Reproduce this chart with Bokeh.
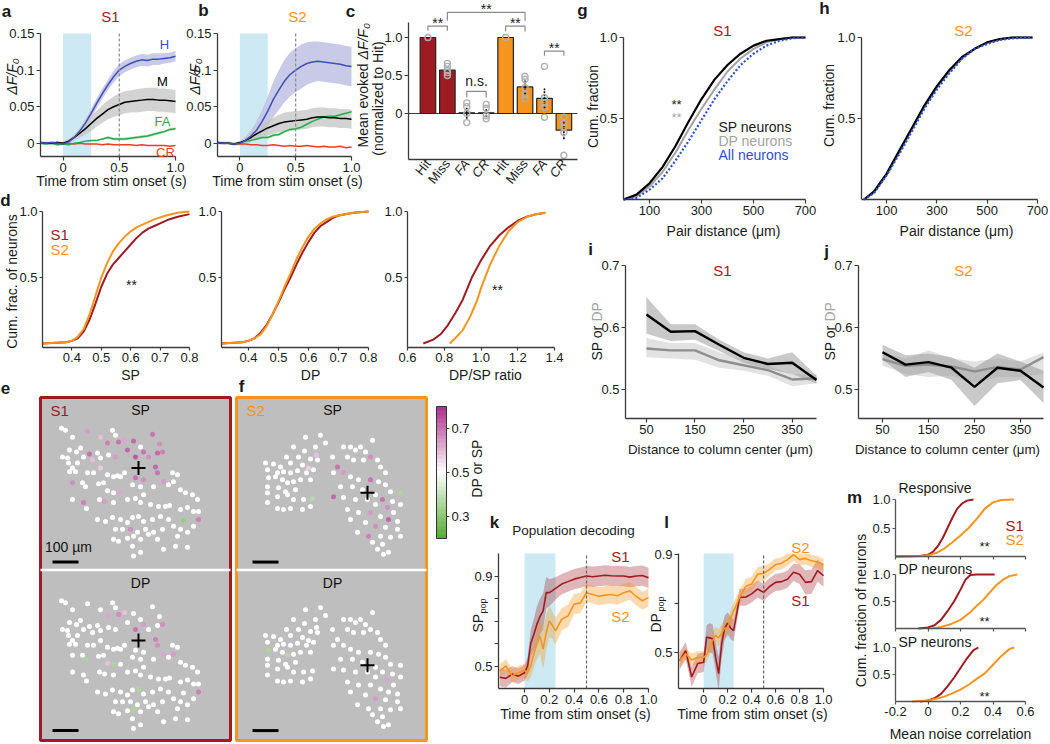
import math
import numpy as np
from bokeh.plotting import figure
from bokeh.models import (Range1d, Label, FixedTicker, LinearAxis, LinearColorMapper,
                          ColumnDataSource)
from bokeh.transform import transform
from bokeh.embed import file_html
from bokeh.resources import INLINE

FONT = "Liberation Sans"
S1C = "#9e1b22"
S2C = "#f7941e"
AXC = "#3a3a3a"
STIM = "#cdeaf4"
BLUE = "#3d50b6"
GREEN = "#2aa94b"
RED = "#f23b25"
DPGRAY = "#a3a3a3"
DOTBLUE = "#3050c8"
MAPBG = "#bebebe"
STIM_END = 0.25
RESP_T = 0.5

# ---------------- data: a / b (trial-type traces) ----------------
t_ab = [-0.2, -0.15, -0.1, -0.05, 0.0, 0.05, 0.1, 0.15, 0.2, 0.25, 0.3, 0.35, 0.4,
        0.45, 0.5, 0.55, 0.6, 0.65, 0.7, 0.75, 0.8, 0.85, 0.9, 0.95, 1.0]
a_hit = [0.001, 0.0, 0.001, 0.0, -0.001, 0.002, 0.008, 0.017, 0.028, 0.041, 0.055, 0.068, 0.080,
         0.091, 0.100, 0.105, 0.109, 0.112, 0.114, 0.113, 0.115, 0.115, 0.116, 0.117, 0.119]
a_hit_sem = [0.002, 0.002, 0.002, 0.002, 0.002, 0.002, 0.003, 0.004, 0.005, 0.006, 0.007, 0.007, 0.007,
             0.008, 0.008, 0.008, 0.008, 0.008, 0.008, 0.008, 0.008, 0.008, 0.007, 0.007, 0.007]
a_miss = [0.001, 0.0, 0.0, 0.001, 0.0, 0.003, 0.008, 0.014, 0.020, 0.027, 0.034, 0.040, 0.046,
          0.050, 0.053, 0.056, 0.057, 0.058, 0.059, 0.060, 0.060, 0.059, 0.059, 0.058, 0.057]
a_miss_sem = [0.002, 0.002, 0.002, 0.002, 0.002, 0.003, 0.004, 0.006, 0.008, 0.010, 0.011, 0.012, 0.013,
              0.014, 0.015, 0.015, 0.015, 0.016, 0.016, 0.016, 0.016, 0.016, 0.016, 0.016, 0.016]
a_fa = [0.0, -0.001, 0.0, -0.002, -0.001, -0.002, 0.0, 0.001, 0.003, 0.004, 0.004, 0.006, 0.008,
        0.006, 0.006, 0.006, 0.007, 0.008, 0.009, 0.010, 0.012, 0.014, 0.016, 0.019, 0.020]
a_fa_sem = [0.001, 0.001, 0.001, 0.001, 0.001, 0.001, 0.001, 0.001, 0.001, 0.001, 0.001, 0.001, 0.002,
            0.002, 0.002, 0.002, 0.002, 0.002, 0.002, 0.002, 0.002, 0.002, 0.002, 0.002, 0.002]
a_cr = [0.001, 0.0, 0.0, 0.001, 0.0, 0.0, -0.001, 0.0, -0.001, -0.001, -0.001, -0.002, -0.001,
        -0.002, -0.002, -0.002, -0.002, -0.003, -0.002, -0.003, -0.003, -0.003, -0.003, -0.004, -0.003]

b_hit = [0.001, 0.0, 0.0, -0.001, 0.0, 0.004, 0.010, 0.018, 0.030, 0.044, 0.060, 0.073, 0.085,
         0.094, 0.100, 0.105, 0.109, 0.111, 0.112, 0.111, 0.110, 0.109, 0.108, 0.106, 0.105]
b_hit_sem = [0.002, 0.002, 0.002, 0.002, 0.003, 0.005, 0.008, 0.012, 0.016, 0.020, 0.024, 0.027, 0.029,
             0.030, 0.030, 0.030, 0.029, 0.028, 0.027, 0.027, 0.027, 0.027, 0.027, 0.027, 0.027]
b_miss = [0.001, 0.0, 0.0, -0.001, 0.001, 0.004, 0.008, 0.013, 0.017, 0.021, 0.024, 0.027, 0.029,
          0.030, 0.031, 0.032, 0.033, 0.035, 0.036, 0.036, 0.035, 0.035, 0.034, 0.034, 0.033]
b_miss_sem = [0.002, 0.002, 0.002, 0.002, 0.002, 0.003, 0.005, 0.007, 0.009, 0.010, 0.011, 0.012, 0.013,
              0.013, 0.013, 0.013, 0.013, 0.013, 0.013, 0.013, 0.013, 0.013, 0.013, 0.013, 0.013]
b_fa = [0.001, 0.0, 0.0, -0.001, 0.0, 0.003, 0.004, 0.006, 0.008, 0.008, 0.011, 0.012, 0.016,
        0.019, 0.020, 0.022, 0.026, 0.030, 0.033, 0.036, 0.037, 0.037, 0.039, 0.041, 0.043]
b_fa_sem = [0.001, 0.001, 0.001, 0.001, 0.001, 0.001, 0.001, 0.002, 0.002, 0.002, 0.002, 0.002, 0.002,
            0.002, 0.002, 0.002, 0.002, 0.002, 0.002, 0.002, 0.002, 0.002, 0.002, 0.002, 0.002]
b_cr = [0.001, 0.0, 0.0, -0.001, -0.001, -0.001, -0.002, -0.002, -0.003, -0.003, -0.002, -0.003, -0.004,
        -0.003, -0.004, -0.004, -0.003, -0.004, -0.005, -0.004, -0.005, -0.005, -0.004, -0.006, -0.005]

# ---------------- data: c (normalized evoked response) ----------------
c_labels = ["Hit", "Miss", "FA", "CR", "Hit", "Miss", "FA", "CR"]
c_pos = [1, 2, 3, 4, 5, 6, 7, 8]
c_mean = [1.0, 0.57, 0.01, 0.01, 1.0, 0.35, 0.20, -0.22]
c_sem = [0.0, 0.05, 0.08, 0.06, 0.0, 0.10, 0.13, 0.12]
c_points = [[1.0], [0.50, 0.54, 0.57, 0.62, 0.66], [-0.12, 0.0, 0.09, 0.14], [-0.07, -0.03, 0.07, 0.12],
            [1.0], [0.20, 0.25, 0.34, 0.45, 0.49], [-0.05, 0.08, 0.14, 0.21, 0.62],
            [-0.55, -0.25, -0.18, -0.12, -0.05]]
# (left bar, right bar, bracket height, leg bottom, text)
c_sig = [(1, 2, 1.15, 1.09, "**"), (3, 4, 0.29, 0.21, "n.s."), (5, 6, 1.15, 1.08, "**"),
         (7, 8, 0.82, 0.76, "**"), (2, 6, 1.33, 1.22, "**")]

# ---------------- data: d (cumulative distributions) ----------------
d1_s1_x = [0.30, 0.38, 0.40, 0.42, 0.44, 0.46, 0.48, 0.50, 0.52, 0.54, 0.56, 0.58, 0.60, 0.62, 0.64,
           0.66, 0.68, 0.70, 0.73, 0.76, 0.80]
d1_s1_f = [0.0, 0.01, 0.02, 0.04, 0.09, 0.18, 0.30, 0.43, 0.53, 0.60, 0.65, 0.70, 0.75, 0.80, 0.84,
           0.87, 0.89, 0.91, 0.94, 0.96, 0.98]
d1_s2_x = [0.30, 0.38, 0.40, 0.42, 0.44, 0.46, 0.48, 0.50, 0.52, 0.54, 0.56, 0.58, 0.60, 0.62, 0.65,
           0.68, 0.72, 0.76, 0.80]
d1_s2_f = [0.0, 0.01, 0.02, 0.05, 0.11, 0.22, 0.36, 0.50, 0.61, 0.70, 0.76, 0.81, 0.85, 0.88, 0.91,
           0.94, 0.97, 0.99, 1.0]
d2_x = [0.31, 0.38, 0.40, 0.42, 0.44, 0.46, 0.48, 0.50, 0.52, 0.54, 0.56, 0.58, 0.60, 0.62, 0.64,
        0.66, 0.68, 0.70, 0.75, 0.80]
d2_s1_f = [0.0, 0.01, 0.02, 0.04, 0.08, 0.14, 0.22, 0.31, 0.41, 0.50, 0.60, 0.69, 0.77, 0.84, 0.89,
           0.92, 0.95, 0.97, 0.99, 1.0]
d2_s2_f = [0.0, 0.01, 0.02, 0.04, 0.07, 0.13, 0.22, 0.32, 0.43, 0.53, 0.64, 0.73, 0.81, 0.87, 0.91,
           0.94, 0.96, 0.97, 0.99, 1.0]
d3_s1_x = [0.686, 0.74, 0.78, 0.82, 0.86, 0.90, 0.95, 1.00, 1.05, 1.10, 1.15, 1.20, 1.25, 1.30, 1.35]
d3_s1_f = [0.0, 0.03, 0.07, 0.14, 0.23, 0.33, 0.50, 0.63, 0.74, 0.82, 0.88, 0.93, 0.96, 0.98, 0.99]
d3_s2_x = [0.83, 0.86, 0.90, 0.94, 0.98, 1.00, 1.05, 1.10, 1.15, 1.20, 1.25, 1.30, 1.35]
d3_s2_f = [0.0, 0.04, 0.10, 0.20, 0.33, 0.42, 0.60, 0.74, 0.85, 0.92, 0.96, 0.98, 0.99]

# ---------------- data: e / f (maps: x, y [26 units = 100 um], SP, DP) ----------------
s1_cells = [
    (21, 31, .5, .5), (25, 33, .5, .5), (47, 34, .64, .5), (72, 33, .5, .5), (75, 38, .5, .5),
    (32, 40, .5, .5), (60, 40, .60, .5), (67, 46, .68, .62), (78, 45, .70, .66), (84, 43, .62, .60),
    (93, 44, .72, .5), (100, 50, .5, .5), (112, 37, .70, .5), (119, 47, .66, .5), (29, 53, .5, .5),
    (36, 55, .5, .5), (40, 51, .5, .5), (49, 57, .70, .5), (57, 56, .5, .5), (22, 60, .5, .5),
    (27, 61, .5, .5), (28, 66, .5, .5), (32, 71, .5, .5), (37, 66, .5, .5), (43, 60, .5, .5),
    (52, 63, .60, .5), (60, 61, .5, .5), (68, 58, .5, .5), (75, 60, .65, .5), (87, 53, .72, .5),
    (95, 60, .74, .70), (103, 55, .70, .64), (108, 60, .66, .5), (117, 56, .72, .5), (122, 55, .68, .66),
    (29, 75, .5, .5), (35, 75, .5, .5), (47, 76, .5, .5), (53, 76, .5, .5), (60, 71, .58, .5),
    (67, 78, .5, .5), (73, 80, .5, .5), (77, 79, .5, .5), (80, 80, .5, .5), (84, 76, .5, .5),
    (95, 81, .70, .5), (103, 83, .66, .5), (115, 70, .72, .68), (117, 76, .70, .66), (123, 85, .64, .62),
    (132, 76, .5, .5), (137, 78, .5, .5), (32, 86, .66, .5), (42, 86, .5, .5), (45, 90, .5, .35),
    (58, 87, .5, .5), (63, 86, .5, .5), (67, 94, .5, .60), (73, 96, .5, .35), (80, 95, .62, .5),
    (92, 88, .5, .5), (100, 90, .5, .5), (103, 98, .5, .5), (113, 90, .5, .5), (128, 88, .5, .5),
    (133, 85, .5, .64), (140, 93, .5, .5), (145, 96, .5, .5), (152, 98, .5, .5), (157, 103, .5, .5),
    (32, 103, .5, .5), (43, 106, .68, .5), (46, 112, .5, .5), (59, 103, .5, .5), (64, 105, .64, .5),
    (73, 106, .5, .5), (87, 103, .5, .5), (95, 102, .5, .5), (100, 106, .5, .5), (110, 108, .5, .5),
    (118, 110, .5, .5), (125, 110, .5, .5), (129, 109, .5, .5), (140, 113, .5, .5), (147, 111, .5, .5),
    (153, 115, .5, .5), (158, 115, .5, .5), (57, 123, .5, .5), (65, 125, .5, .5), (72, 121, .5, .5),
    (80, 123, .5, .5), (87, 126, .5, .5), (92, 121, .5, .5), (98, 120, .5, .35), (103, 125, .5, .5),
    (112, 123, .5, .5), (120, 120, .5, .5), (128, 123, .5, .5), (133, 130, .5, .5), (140, 133, .5, .5),
    (147, 136, .5, .5), (153, 130, .5, .5), (158, 123, .68, .68), (75, 133, .5, .5), (82, 133, .5, .5),
    (90, 133, .66, .5), (97, 136, .5, .5), (105, 133, .5, .5), (113, 136, .5, .5), (122, 133, .5, .5),
    (137, 140, .5, .5), (73, 143, .5, .5), (78, 145, .5, .5), (87, 142, .5, .5), (93, 140, .5, .36),
    (100, 143, .5, .5), (108, 138, .5, .5), (117, 143, .5, .5), (123, 153, .5, .5), (135, 150, .5, .5),
    (147, 151, .5, .5), (92, 150, .5, .5), (93, 160, .5, .5), (100, 156, .5, .5), (143, 124, .32, .5),
]
s2_cells = [
    (69, 40, .5, .5), (57, 50, .5, .5), (68, 54, .5, .5), (79, 50, .5, .5), (50, 60, .5, .5),
    (62, 60, .5, .5), (74, 62, .5, .5), (80, 58, .60, .5), (29, 66, .5, .5), (37, 67, .5, .5),
    (44, 70, .5, .5), (54, 66, .5, .5), (66, 68, .5, .5), (72, 71, .58, .5), (31, 73, .5, .5),
    (41, 76, .5, .5), (47, 75, .5, .5), (54, 76, .5, .5), (61, 74, .5, .5), (70, 76, .5, .5),
    (77, 73, .5, .5), (32, 81, .5, .36), (39, 80, .5, .5), (46, 83, .5, .5), (51, 86, .5, .38),
    (57, 85, .5, .5), (64, 83, .5, .5), (74, 83, .5, .5), (31, 90, .5, .5), (42, 91, .5, .5),
    (49, 95, .5, .5), (59, 93, .5, .5), (31, 96, .5, .5), (41, 100, .5, .5), (51, 98, .5, .5),
    (57, 103, .5, .5), (67, 103, .5, .5), (76, 102, .38, .5), (31, 106, .5, .5), (41, 112, .5, .5),
    (47, 113, .5, .5), (54, 112, .5, .5), (66, 113, .5, .5), (74, 110, .5, .5), (84, 38, .5, .5),
    (89, 46, .5, .5), (81, 63, .5, .5), (96, 60, .5, .5), (101, 70, .70, .5), (107, 50, .5, .5),
    (114, 50, .5, .5), (119, 53, .5, .5), (124, 50, .5, .5), (129, 55, .5, .5), (136, 43, .5, .5),
    (111, 60, .5, .5), (117, 63, .5, .5), (127, 63, .5, .5), (134, 60, .66, .5), (141, 63, .5, .5),
    (144, 70, .5, .5), (149, 76, .5, .5), (97, 76, .5, .5), (107, 76, .64, .5), (114, 80, .5, .5),
    (122, 83, .5, .5), (134, 83, .70, .5), (142, 85, .5, .5), (149, 88, .5, .5), (154, 95, .5, .5),
    (164, 96, .36, .5), (104, 90, .5, .5), (116, 90, .5, .5), (126, 93, .5, .5), (139, 98, .5, .5),
    (146, 103, .70, .5), (156, 105, .5, .5), (97, 100, .72, .5), (107, 101, .5, .5), (119, 103, .5, .5),
    (131, 103, .5, .5), (139, 108, .5, .5), (151, 111, .66, .62), (157, 116, .5, .5), (164, 108, .5, .5),
    (111, 113, .5, .5), (122, 116, .5, .5), (134, 116, .64, .5), (144, 120, .5, .5), (152, 123, .72, .5),
    (161, 125, .5, .5), (114, 123, .5, .5), (129, 126, .5, .5), (139, 130, .66, .64), (149, 131, .5, .5),
    (161, 133, .5, .5), (121, 136, .5, .5), (132, 140, .68, .5), (144, 140, .5, .5), (154, 141, .5, .5),
    (164, 140, .5, .5), (136, 146, .5, .5), (146, 148, .5, .5), (152, 156, .5, .5), (147, 158, .5, .5),
    (141, 153, .5, .5),
]
s1_center = (98, 71)
s2_center = (131, 96)
MAP_W = 190
PANEL_H = 174
MAP_H = 346
SCALE_100UM = 26

# ---------------- data: g / h (pair distance CDF) ----------------
g_x = [0, 50, 100, 150, 200, 250, 300, 350, 400, 450, 500, 550, 600, 650, 700]
g_sp = [0, 0.03, 0.10, 0.20, 0.33, 0.48, 0.62, 0.74, 0.83, 0.90, 0.95, 0.98, 0.99, 1.0, 1.0]
g_dp = [0, 0.02, 0.08, 0.17, 0.29, 0.43, 0.56, 0.68, 0.79, 0.87, 0.93, 0.97, 0.99, 1.0, 1.0]
g_all = [0, 0.01, 0.06, 0.13, 0.24, 0.36, 0.49, 0.62, 0.73, 0.83, 0.90, 0.95, 0.98, 0.995, 1.0]
h_x = [10, 50, 100, 150, 200, 250, 300, 350, 400, 450, 500, 550, 600, 680]
h_sp = [0, 0.05, 0.16, 0.30, 0.44, 0.58, 0.70, 0.80, 0.88, 0.93, 0.97, 0.99, 1.0, 1.0]
h_dp = [0, 0.04, 0.15, 0.29, 0.43, 0.57, 0.69, 0.79, 0.87, 0.93, 0.97, 0.99, 1.0, 1.0]
h_all = [0, 0.04, 0.15, 0.28, 0.42, 0.56, 0.68, 0.78, 0.87, 0.93, 0.96, 0.985, 0.995, 1.0]

# ---------------- data: i / j (SP, DP vs distance to column center) ----------------
ij_x = [50, 100, 150, 200, 250, 300, 350, 400]
i_sp = [0.621, 0.593, 0.594, 0.572, 0.551, 0.541, 0.543, 0.515]
i_sp_hi = [0.649, 0.605, 0.605, 0.580, 0.560, 0.550, 0.560, 0.522]
i_sp_lo = [0.590, 0.578, 0.580, 0.562, 0.543, 0.533, 0.525, 0.509]
i_dp = [0.566, 0.563, 0.563, 0.547, 0.539, 0.531, 0.516, 0.518]
i_dp_hi = [0.583, 0.575, 0.575, 0.560, 0.548, 0.538, 0.525, 0.525]
i_dp_lo = [0.552, 0.550, 0.548, 0.535, 0.530, 0.522, 0.505, 0.510]
j_sp = [0.560, 0.540, 0.544, 0.535, 0.504, 0.535, 0.530, 0.503]
j_sp_hi = [0.572, 0.555, 0.558, 0.552, 0.535, 0.558, 0.545, 0.530]
j_sp_lo = [0.548, 0.520, 0.528, 0.515, 0.473, 0.510, 0.515, 0.478]
j_dp = [0.549, 0.538, 0.540, 0.537, 0.529, 0.536, 0.532, 0.552]
j_dp_hi = [0.560, 0.550, 0.563, 0.550, 0.545, 0.550, 0.545, 0.560]
j_dp_lo = [0.538, 0.525, 0.520, 0.522, 0.510, 0.520, 0.520, 0.525]

# ---------------- data: k / l (population decoding) ----------------
t_kl = [-0.2, -0.15, -0.1, -0.05, 0.0, 0.025, 0.05, 0.075, 0.1, 0.125, 0.15, 0.175, 0.2, 0.225, 0.25,
        0.3, 0.35, 0.4, 0.45, 0.5, 0.55, 0.6, 0.65, 0.7, 0.75, 0.8, 0.85, 0.9, 0.95, 1.0]
k_s1 = [0.450, 0.445, 0.464, 0.455, 0.470, 0.500, 0.600, 0.640, 0.686, 0.720, 0.745, 0.826, 0.826, 0.835,
        0.845, 0.864, 0.875, 0.886, 0.893, 0.900, 0.897, 0.900, 0.903, 0.901, 0.900, 0.900, 0.895, 0.900,
        0.902, 0.892]
k_s1_sem = [0.04, 0.04, 0.035, 0.035, 0.035, 0.04, 0.06, 0.07, 0.08, 0.08, 0.08, 0.07, 0.06, 0.055, 0.05,
            0.045, 0.045, 0.045, 0.045, 0.045, 0.045, 0.045, 0.045, 0.045, 0.045, 0.045, 0.045, 0.045,
            0.045, 0.045]
k_s2 = [0.478, 0.500, 0.456, 0.470, 0.480, 0.470, 0.500, 0.553, 0.600, 0.633, 0.575, 0.650, 0.700, 0.680,
        0.656, 0.708, 0.722, 0.775, 0.780, 0.826, 0.818, 0.810, 0.815, 0.818, 0.812, 0.826, 0.834, 0.810,
        0.790, 0.804]
k_s2_sem = [0.03, 0.03, 0.03, 0.03, 0.03, 0.04, 0.05, 0.06, 0.07, 0.08, 0.09, 0.08, 0.07, 0.06, 0.06,
            0.05, 0.05, 0.045, 0.045, 0.04, 0.04, 0.04, 0.04, 0.04, 0.04, 0.04, 0.04, 0.04, 0.04, 0.04]
l_s2 = [0.467, 0.495, 0.470, 0.480, 0.480, 0.490, 0.520, 0.550, 0.570, 0.560, 0.580, 0.600, 0.600, 0.640,
        0.670, 0.726, 0.770, 0.780, 0.820, 0.824, 0.840, 0.860, 0.865, 0.880, 0.900, 0.880, 0.885, 0.875,
        0.870, 0.860]
l_s2_sem = [0.025, 0.025, 0.025, 0.025, 0.025, 0.03, 0.03, 0.035, 0.035, 0.035, 0.035, 0.035, 0.035, 0.035,
            0.035, 0.03, 0.03, 0.03, 0.03, 0.03, 0.025, 0.025, 0.025, 0.025, 0.025, 0.025, 0.025, 0.025,
            0.025, 0.025]
l_s1 = [0.467, 0.508, 0.400, 0.455, 0.460, 0.563, 0.560, 0.556, 0.480, 0.414, 0.535, 0.600, 0.620, 0.600,
        0.590, 0.726, 0.726, 0.740, 0.760, 0.746, 0.770, 0.787, 0.790, 0.800, 0.828, 0.820, 0.787, 0.790,
        0.835, 0.814]
l_s1_sem = [0.035, 0.035, 0.04, 0.04, 0.04, 0.05, 0.06, 0.06, 0.06, 0.07, 0.06, 0.05, 0.045, 0.045, 0.045,
            0.035, 0.035, 0.035, 0.035, 0.035, 0.035, 0.035, 0.035, 0.035, 0.035, 0.04, 0.05, 0.05, 0.045,
            0.045]

# ---------------- data: m (noise correlation CDFs) ----------------
m1_s1_x = [-0.2, -0.05, 0.0, 0.03, 0.06, 0.09, 0.12, 0.15, 0.18, 0.21, 0.24, 0.28]
m1_s1_f = [0.0, 0.01, 0.03, 0.08, 0.18, 0.32, 0.50, 0.68, 0.84, 0.93, 0.98, 1.0]
m1_s2_x = [-0.2, -0.05, 0.0, 0.05, 0.10, 0.15, 0.20, 0.25, 0.30, 0.35, 0.40, 0.45, 0.53]
m1_s2_f = [0.0, 0.01, 0.02, 0.06, 0.14, 0.25, 0.37, 0.50, 0.66, 0.84, 0.95, 0.99, 1.0]
m2_s1_x = [-0.06, 0.0, 0.04, 0.08, 0.12, 0.16, 0.20, 0.23, 0.26, 0.30, 0.41]
m2_s1_f = [0.0, 0.02, 0.06, 0.16, 0.32, 0.50, 0.72, 0.90, 0.99, 1.0, 1.0]
m2_s2_x = [0.02, 0.08, 0.14, 0.20, 0.26, 0.30, 0.34, 0.38, 0.42, 0.46, 0.50, 0.55]
m2_s2_f = [0.0, 0.03, 0.08, 0.16, 0.30, 0.42, 0.53, 0.67, 0.80, 0.90, 0.97, 1.0]
m3_s1_x = [-0.05, 0.0, 0.04, 0.08, 0.12, 0.16, 0.20, 0.24, 0.28, 0.31]
m3_s1_f = [0.0, 0.02, 0.06, 0.14, 0.28, 0.44, 0.62, 0.80, 0.95, 1.0]
m3_s2_x = [-0.1, 0.0, 0.05, 0.10, 0.15, 0.20, 0.25, 0.30, 0.35, 0.40, 0.45, 0.50, 0.53]
m3_s2_f = [0.0, 0.02, 0.05, 0.09, 0.15, 0.22, 0.31, 0.42, 0.52, 0.68, 0.84, 0.97, 1.0]

# ======================= one canvas, one set of ranges per panel =======================
W, H = 1048, 742
p = figure(width=W, height=H, x_range=Range1d(0, W), y_range=Range1d(H, 0),
           x_axis_location=None, y_axis_location=None,
           min_border_left=0, min_border_right=0, min_border_top=0, min_border_bottom=0,
           output_backend="svg", toolbar_location=None, title=None)
p.outline_line_color = None
p.grid.visible = False

XR = {}
YR = {}


def style_axis(ax, color=AXC, tick_out=4, fs="13px"):
    ax.axis_line_color = color
    ax.axis_line_width = 1.3
    ax.major_tick_line_color = color
    ax.major_tick_line_width = 1.2
    ax.major_tick_in = 0
    ax.minor_tick_line_color = color
    ax.minor_tick_line_width = 1.2
    ax.minor_tick_out = tick_out
    ax.minor_tick_in = 0
    ax.major_label_text_font = FONT
    ax.major_label_text_font_size = fs
    ax.major_label_standoff = 2


class Panel:
    n = 0

    def __init__(self, frame, xr, yr):
        Panel.n += 1
        self.nm = f"panel{Panel.n}"
        fx0, fx1, fy0, fy1 = frame
        xa, xb = xr
        ya, yb = yr
        sx = (xb - xa) / (fx1 - fx0)
        sy = (yb - ya) / (fy1 - fy0)
        XR[self.nm] = Range1d(xa - fx0 * sx, xa + (W - fx0) * sx)
        YR[self.nm] = Range1d(ya + (fy1 - H) * sy, ya + fy1 * sy)
        self.xr, self.yr = xr, yr
        self.kw = dict(x_range_name=self.nm, y_range_name=self.nm)

    def xaxis(self, ticks, labels, tick_out=4, color=AXC, show=True, orient=None, style="normal",
              line=True):
        ax = LinearAxis(**self.kw, fixed_location=self.yr[0], bounds=self.xr,
                        ticker=FixedTicker(ticks=ticks),
                        major_label_overrides=dict(zip(ticks, labels)))
        style_axis(ax, color, tick_out)
        ax.major_tick_out = tick_out
        ax.major_label_text_font_style = style
        ax.major_label_text_color = "#1a1a1a" if show else None
        if orient is not None:
            ax.major_label_orientation = orient
        if not line:
            ax.axis_line_color = None
        p.add_layout(ax, "below")
        return ax

    def yaxis(self, ticks, labels, minor=None, tick_out=4, color=AXC, side="left", line=True):
        loc = self.xr[0] if side == "left" else self.xr[1]
        ax = LinearAxis(**self.kw, fixed_location=loc, bounds=self.yr,
                        ticker=FixedTicker(ticks=ticks, minor_ticks=minor or []),
                        major_label_overrides=dict(zip(ticks, labels)))
        style_axis(ax, color, tick_out)
        ax.major_tick_out = tick_out
        ax.major_label_text_color = "#1a1a1a"
        if not line:
            ax.axis_line_color = None
        p.add_layout(ax, side)
        return ax


def txt(px, py, s, color="#1a1a1a", size=14, align="center", angle=0.0, style="normal",
        baseline="middle"):
    p.add_layout(Label(x=px, y=py, text=s, text_color=color, text_font=FONT,
                       text_font_size=f"{size}px", text_align=align, text_baseline=baseline,
                       angle=angle, text_font_style=style))


def band(pp, x, lo, hi, color, alpha):
    p.varea(x=x, y1=lo, y2=hi, fill_color=color, fill_alpha=alpha, **pp.kw)


def mean_band(pp, x, m, s, color, alpha):
    top = pp.yr[1]
    band(pp, x, [a - b for a, b in zip(m, s)], [min(a + b, top) for a, b in zip(m, s)], color, alpha)


def stim_box(pp):
    p.quad(left=[0], right=[STIM_END], bottom=[pp.yr[0]], top=[pp.yr[1]],
           fill_color=STIM, line_color=None, **pp.kw)


def resp_line(pp, color="#8a8a8a"):
    p.segment(x0=[RESP_T], y0=[pp.yr[0]], x1=[RESP_T], y1=[pp.yr[1]], line_color=color,
              line_dash="3 2", line_width=1.2, **pp.kw)


HALF_PI = math.pi / 2

# ======================= panels a / b =======================
def trace_panel(pp, hit, hit_sem, miss, miss_sem, fa, fa_sem, cr):
    stim_box(pp)
    mean_band(pp, t_ab, hit, hit_sem, "#c3c3e6", 0.9)
    mean_band(pp, t_ab, miss, miss_sem, "#c4c4c4", 0.75)
    mean_band(pp, t_ab, fa, fa_sem, "#b5dfbf", 0.8)
    p.line(t_ab, cr, line_color=RED, line_width=1.5, **pp.kw)
    p.line(t_ab, fa, line_color=GREEN, line_width=1.5, **pp.kw)
    p.line(t_ab, miss, line_color="black", line_width=1.5, **pp.kw)
    p.line(t_ab, hit, line_color=BLUE, line_width=1.5, **pp.kw)
    resp_line(pp)
    pp.xaxis([0, 0.5, 1.0], ["0", "0.5", "1.0"])
    pp.yaxis([0, 0.05, 0.1, 0.15], ["0", "0.05", "0.1", "0.15"])


pa = Panel((40, 175, 33, 156), (-0.2, 1.0), (-0.018, 0.15))
trace_panel(pa, a_hit, a_hit_sem, a_miss, a_miss_sem, a_fa, a_fa_sem, a_cr)
txt(6, 11, "a", size=17, style="bold")
txt(110, 16, "S1", color=S1C, size=15)
txt(11, 76, "\u0394F/F\u2080", angle=HALF_PI, style="italic")
txt(111, 180, "Time from stim onset (s)")
txt(164, 44, "H", color=BLUE, size=13)
txt(162, 81, "M", color="black", size=13)
txt(162, 121, "FA", color=GREEN, size=13)
txt(165, 152, "CR", color=RED, size=13)

pb = Panel((217, 351, 33, 156), (-0.2, 1.0), (-0.018, 0.15))
trace_panel(pb, b_hit, b_hit_sem, b_miss, b_miss_sem, b_fa, b_fa_sem, b_cr)
txt(203, 10, "b", size=17, style="bold")
txt(297, 16, "S2", color=S2C, size=15)
txt(194, 76, "\u0394F/F\u2080", angle=HALF_PI, style="italic")
txt(287, 180, "Time from stim onset (s)")

# ======================= panel c =======================
pc = Panel((408, 577, 21.8, 158.6), (0, 8.7), (-0.6, 1.2))
plain = [i for i, l in enumerate(c_labels) if l in ("Hit", "Miss")]
slanted = [i for i, l in enumerate(c_labels) if l in ("FA", "CR")]
pc.xaxis([c_pos[i] for i in plain], [c_labels[i] for i in plain], tick_out=0, orient=0.9)
pc.xaxis([c_pos[i] for i in slanted], [c_labels[i] for i in slanted], tick_out=0, orient=0.9,
         style="italic", line=False)
pc.yaxis([0, 0.5, 1.0], ["0", "0.5", "1.0"])
p.segment(x0=[0], y0=[0], x1=[8.7], y1=[0], line_color=AXC, line_width=1.2, **pc.kw)
p.vbar(x=c_pos, top=c_mean, bottom=0, width=0.8, fill_color=[S1C] * 4 + [S2C] * 4,
       line_color="#222222", line_width=1.2, **pc.kw)
p.segment(x0=c_pos, y0=[m - s for m, s in zip(c_mean, c_sem)],
          x1=c_pos, y1=[m + s for m, s in zip(c_mean, c_sem)],
          line_color="black", line_width=1.6, line_dash="2 1", **pc.kw)
pts_x = [c_pos[i] for i, pts in enumerate(c_points) for _ in pts]
pts_y = [v for pts in c_points for v in pts]
p.scatter(pts_x, pts_y, size=6, fill_color=None, line_color="#b0b0b0", line_width=1.4, **pc.kw)
for xa_, xb_, h, leg, s in c_sig:
    p.line([xa_, xa_, xb_, xb_], [leg, h, h, leg], line_color="#8a8a8a", line_width=1.2, **pc.kw)
    p.add_layout(Label(x=(xa_ + xb_) / 2, y=h, y_offset=(10 if s == "n.s." else 3),
                       text=s, text_font=FONT, text_font_size="14px", text_align="center",
                       text_baseline="middle", text_color="#1a1a1a", **pc.kw))
txt(350, 11, "c", size=17, style="bold")
txt(362, 147, "Mean evoked ", angle=HALF_PI, align="left")
txt(362, 59, "\u0394F/F\u2080", angle=HALF_PI, align="left", style="italic")
txt(377, 98, "(normalized to Hit)", angle=HALF_PI)

# ======================= panel d =======================
def cdf_axes(pp, xticks, xlabels):
    pp.xaxis(xticks, xlabels, tick_out=3)
    pp.yaxis([0.5, 1.0], ["0.5", "1.0"], tick_out=3)


pd1 = Panel((42, 189, 211, 347), (0.3, 0.8), (-0.03, 1.0))
cdf_axes(pd1, [0.4, 0.5, 0.6, 0.7, 0.8], ["0.4", "0.5", "0.6", "0.7", "0.8"])
p.line(d1_s1_x, d1_s1_f, line_color=S1C, line_width=2, **pd1.kw)
p.line(d1_s2_x, d1_s2_f, line_color=S2C, line_width=2, **pd1.kw)
txt(5, 200, "d", size=17, style="bold")
txt(11, 281, "Cum. frac. of neurons", angle=HALF_PI)
txt(130, 374, "SP")
txt(50, 234, "S1", color=S1C, size=15, align="left")
txt(50, 249, "S2", color=S2C, size=15, align="left")
txt(131, 284, "**", size=14)

pd2 = Panel((221, 368, 211, 347), (0.31, 0.8), (-0.03, 1.0))
cdf_axes(pd2, [0.4, 0.5, 0.6, 0.7, 0.8], ["0.4", "0.5", "0.6", "0.7", "0.8"])
p.line(d2_x, d2_s1_f, line_color=S1C, line_width=2, **pd2.kw)
p.line(d2_x, d2_s2_f, line_color=S2C, line_width=2, **pd2.kw)
txt(310, 374, "DP")

pd3 = Panel((407, 554, 211, 347), (0.6, 1.4), (-0.03, 1.0))
cdf_axes(pd3, [0.6, 0.8, 1.0, 1.2, 1.4], ["0.6", "0.8", "1.0", "1.2", "1.4"])
p.line(d3_s1_x, d3_s1_f, line_color=S1C, line_width=2, **pd3.kw)
p.line(d3_s2_x, d3_s2_f, line_color=S2C, line_width=2, **pd3.kw)
txt(485, 374, "DP/SP ratio")
txt(497, 289, "**", size=14)

# ======================= panels e / f (maps) =======================
def blend(c1, c2, f):
    a = [int(c1[i:i + 2], 16) for i in (1, 3, 5)]
    b = [int(c2[i:i + 2], 16) for i in (1, 3, 5)]
    return "#" + "".join(f"{round(x + (y - x) * f):02x}" for x, y in zip(a, b))


PAL = ([blend("#5aad35", "#ffffff", i / 16) for i in range(16)] +
       [blend("#ffffff", "#b0348f", i / 16) for i in range(17)])
CMAP = LinearColorMapper(palette=PAL, low=0.2, high=0.8)


def map_panel(pp, cells, center, area, area_color, lab_x, sb_x):
    p.quad(left=[0], right=[MAP_W], top=[0], bottom=[MAP_H], fill_color=MAPBG,
           line_color=area_color, line_width=3, **pp.kw)
    p.segment(x0=[0], y0=[PANEL_H], x1=[MAP_W], y1=[PANEL_H], line_color="white",
              line_width=2.5, **pp.kw)
    xs = [c[0] for c in cells]
    ys = [c[1] for c in cells]
    sp = [c[2] for c in cells]
    dp = [c[3] for c in cells]
    src_sp = ColumnDataSource(dict(x=xs, y=ys, v=sp))
    src_dp = ColumnDataSource(dict(x=xs, y=[y + PANEL_H for y in ys], v=dp))
    for src in (src_sp, src_dp):
        p.scatter("x", "y", source=src, size=5, line_color=None,
                  fill_color=transform("v", CMAP), **pp.kw)
    p.scatter([center[0], center[0]], [center[1], center[1] + PANEL_H], marker="cross",
              size=14, line_color="black", line_width=2, **pp.kw)
    p.segment(x0=[sb_x, sb_x], y0=[166, PANEL_H + 162], x1=[sb_x + SCALE_100UM] * 2,
              y1=[166, PANEL_H + 162], line_color="black", line_width=3, **pp.kw)
    for s, yy in (("SP", 13), ("DP", PANEL_H + 13)):
        p.add_layout(Label(x=lab_x, y=yy, text=s, text_font=FONT, text_font_size="14px",
                           text_align="center", text_baseline="middle", text_color="#111111", **pp.kw))
    p.add_layout(Label(x=10, y=13, text=area, text_font=FONT, text_font_size="15px",
                       text_align="left", text_baseline="middle", text_color=area_color, **pp.kw))


pe = Panel((40, 230, 397, 740), (0, MAP_W), (MAP_H, 0))
map_panel(pe, s1_cells, s1_center, "S1", S1C, 100, 12)
p.add_layout(Label(x=28, y=151, text="100 \u00b5m", text_font=FONT, text_font_size="14px",
                   text_align="center", text_baseline="middle", text_color="#111111", **pe.kw))
txt(5, 387, "e", size=17, style="bold")

pf = Panel((236, 426, 397, 740), (0, MAP_W), (MAP_H, 0))
map_panel(pf, s2_cells, s2_center, "S2", S2C, 96, 16)
txt(241, 386, "f", size=17, style="bold")

# colour bar
pcb = Panel((436, 446, 406, 538), (0, 1), (0.2, 0.8))
p.image(image=[np.linspace(0.2, 0.8, 120).reshape(120, 1)], x=0, y=0.2, dw=1, dh=0.6,
        color_mapper=CMAP, **pcb.kw)
p.quad(left=[0], right=[1], bottom=[0.2], top=[0.8], fill_color=None, line_color="#333333",
       line_width=1, **pcb.kw)
pcb.yaxis([0.3, 0.5, 0.7], ["0.3", "0.5", "0.7"], tick_out=3, side="right", line=False)
txt(476, 468, "DP or SP", angle=HALF_PI)

# ======================= panels g / h =======================
def pair_panel(pp, x, sp, dp, al):
    p.line(x, dp, line_color=DPGRAY, line_width=2, **pp.kw)
    p.line(x, sp, line_color="black", line_width=2.2, **pp.kw)
    p.line(x, al, line_color=DOTBLUE, line_width=2.2, line_dash="2 2", **pp.kw)
    pp.xaxis([100, 300, 500, 700], ["100", "300", "500", "700"])
    pp.yaxis([0.5, 1.0], ["0.5", "1.0"])


pg = Panel((623, 805, 37, 199), (0, 700), (0, 1.0))
pair_panel(pg, g_x, g_sp, g_dp, g_all)
txt(582, 10, "g", size=17, style="bold")
txt(722, 30, "S1", color=S1C, size=15)
txt(592, 106, "Cum. fraction", angle=HALF_PI)
txt(723, 230, "Pair distance (\u03bcm)")
txt(676, 104, "**", size=13)
txt(676, 117, "**", size=13, color="#aaaaaa")
txt(718, 126, "SP neurons", align="left")
txt(718, 140, "DP neurons", align="left", color=DPGRAY)
txt(718, 154, "All neurons", align="left", color=DOTBLUE)

ph = Panel((861, 1037, 37, 199), (0, 700), (0, 1.0))
pair_panel(ph, h_x, h_sp, h_dp, h_all)
txt(824, 8, "h", size=17, style="bold")
txt(963, 30, "S2", color=S2C, size=15)
txt(828, 105, "Cum. fraction", angle=HALF_PI)
txt(956, 230, "Pair distance (\u03bcm)")

# ======================= panels i / j =======================
def dist_panel(pp, sp, sp_lo, sp_hi, dp, dp_lo, dp_hi):
    band(pp, ij_x, dp_lo, dp_hi, "#d2d2d2", 0.65)
    band(pp, ij_x, sp_lo, sp_hi, "#9c9c9c", 0.55)
    p.line(ij_x, dp, line_color="#8e8e8e", line_width=2.4, **pp.kw)
    p.line(ij_x, sp, line_color="black", line_width=2.4, **pp.kw)
    pp.xaxis([50, 150, 250, 350], ["50", "150", "250", "350"])
    pp.yaxis([0.5, 0.6, 0.7], ["0.5", "0.6", "0.7"])


def sp_dp_label(x):
    txt(x, 360, "SP or ", angle=HALF_PI, align="left")
    txt(x, 321, "DP", angle=HALF_PI, align="left", color=DPGRAY)


pi_ = Panel((625, 816, 265, 418), (7, 400), (0.453, 0.7))
dist_panel(pi_, i_sp, i_sp_lo, i_sp_hi, i_dp, i_dp_lo, i_dp_hi)
txt(590, 249, "i", size=17, style="bold")
txt(722, 270, "S1", color=S1C, size=15)
sp_dp_label(596)
txt(720, 449, "Distance to column center (\u03bcm)", size=13.3)

pj = Panel((858, 1043, 265, 418), (-2.2, 400), (0.453, 0.7))
dist_panel(pj, j_sp, j_sp_lo, j_sp_hi, j_dp, j_dp_lo, j_dp_hi)
txt(826, 251, "j", size=17, style="bold")
txt(963, 270, "S2", color=S2C, size=15)
sp_dp_label(829)
txt(947, 449, "Distance to column center (\u03bcm)", size=13.3)

# ======================= panels k / l =======================
def decode_panel(pp, s1, s1_sem, s2, s2_sem, yticks, ylabels, yminor):
    stim_box(pp)
    mean_band(pp, t_kl, s1, s1_sem, S1C, 0.32)
    mean_band(pp, t_kl, s2, s2_sem, S2C, 0.35)
    p.line(t_kl, s1, line_color=S1C, line_width=1.6, **pp.kw)
    p.line(t_kl, s2, line_color=S2C, line_width=1.6, **pp.kw)
    resp_line(pp, "#666666")
    pp.xaxis([0, 0.2, 0.4, 0.6, 0.8, 1.0], ["0", "0.2", "0.4", "0.6", "0.8", "1.0"])
    pp.yaxis(yticks, ylabels, minor=yminor)


pk = Panel((498, 648, 553, 688), (-0.21, 1.0), (0.4, 1.0))
decode_panel(pk, k_s1, k_s1_sem, k_s2, k_s2_sem, [0.5, 0.9], ["0.5", "0.9"], [0.6, 0.7, 0.8])
txt(494, 522, "k", size=17, style="bold")
txt(573, 530, "Population decoding", size=13.5)
txt(620, 556, "S1", color=S1C, size=15)
txt(620, 616, "S2", color=S2C, size=15)
txt(477, 632, "SP", angle=HALF_PI, align="left")
txt(482, 613, "pop", angle=HALF_PI, align="left", size=9)
txt(575, 713, "Time from stim onset (s)")

pl = Panel((678, 823, 553, 688), (-0.21, 1.0), (0.353, 0.905))
decode_panel(pl, l_s1, l_s1_sem, l_s2, l_s2_sem, [0.5, 0.9], ["0.5", "0.9"], [0.7])
txt(666, 522, "l", size=17, style="bold")
txt(655, 632, "DP", angle=HALF_PI, align="left")
txt(660, 611, "pop", angle=HALF_PI, align="left", size=9)
txt(800, 547, "S2", color=S2C, size=15)
txt(800, 600, "S1", color=S1C, size=15)
txt(752, 713, "Time from stim onset (s)")

# ======================= panel m =======================
def noise_panel(pp, s1x, s1f, s2x, s2f, show_x):
    p.line(s1x, s1f, line_color=S1C, line_width=2, **pp.kw)
    p.line(s2x, s2f, line_color=S2C, line_width=2, **pp.kw)
    pp.xaxis([-0.2, 0, 0.2, 0.4, 0.6], ["-0.2", "0", "0.2", "0.4", "0.6"], tick_out=3,
             color="#555555", show=show_x)
    pp.yaxis([0.5, 1.0], ["0.5", "1.0"], tick_out=3, color="#555555")


pm1 = Panel((895, 1025, 499, 556), (-0.2, 0.6), (0, 1.0))
noise_panel(pm1, m1_s1_x, m1_s1_f, m1_s2_x, m1_s2_f, False)
pm2 = Panel((895, 1025, 574, 628), (-0.2, 0.6), (0, 1.0))
noise_panel(pm2, m2_s1_x, m2_s1_f, m2_s2_x, m2_s2_f, False)
pm3 = Panel((895, 1025, 647, 701), (-0.2, 0.6), (0, 1.0))
noise_panel(pm3, m3_s1_x, m3_s1_f, m3_s2_x, m3_s2_f, True)
txt(854, 497, "m", size=17, style="bold")
txt(860, 610, "Cum. fraction of neurons", angle=HALF_PI)
txt(898, 487, "Responsive", align="left")
txt(1005, 525, "S1", color=S1C, size=15, align="left")
txt(1005, 539, "S2", color=S2C, size=15, align="left")
txt(984, 546, "**", size=13)
txt(898, 568, "DP neurons", align="left")
txt(984, 621, "**", size=13)
txt(898, 641, "SP neurons", align="left")
txt(984, 696, "**", size=13)
txt(960, 733, "Mean noise correlation")

p.extra_x_ranges = XR
p.extra_y_ranges = YR

open("out.html", "w").write(file_html(p, INLINE, "Figure"))
